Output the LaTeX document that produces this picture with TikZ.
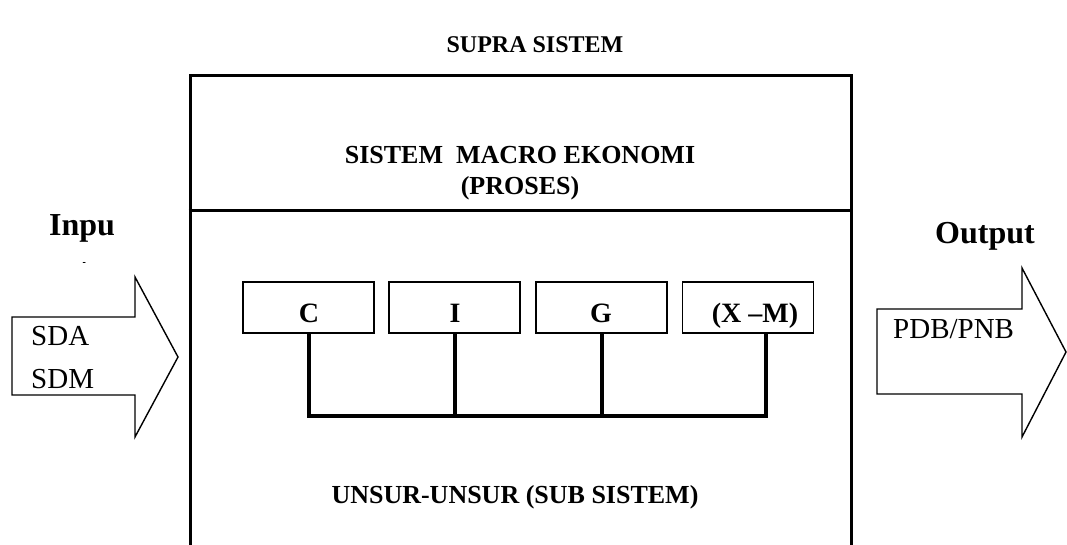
\documentclass[tikz,border=0pt]{standalone}
\usepackage{fontspec}
\setmainfont{Liberation Serif}
\begin{document}
\begin{tikzpicture}[x=1pt,y=-1pt,
  hd/.style={font=\fontsize{26}{31}\selectfont\bfseries, inner sep=0pt, align=center},
  io/.style={font=\fontsize{32}{36}\selectfont\bfseries, inner sep=0pt},
  tx/.style={font=\fontsize{29}{45}\selectfont, inner sep=0pt, align=left},
  subbox/.style={draw, line width=1.8pt, minimum width=131pt, minimum height=51pt, inner sep=0pt},
  lab/.style={font=\fontsize{28}{30}\selectfont\bfseries, inner sep=0pt},
  link/.style={line width=4pt, line join=miter},
  arr/.style={draw, line width=1.4pt, line join=miter},
  frame/.style={draw, line width=3pt, minimum width=661pt, minimum height=505pt, inner sep=0pt}]
\useasboundingbox (0,0) rectangle (1067,544);
\clip (0,0) rectangle (1067,544);
% main system box
\node[frame] (sys) at (520.5,327.5) {};
\draw[line width=3pt] (sys.west |- 0,210) -- (sys.east |- 0,210);
% titles
\node[hd, font=\fontsize{24}{28}\selectfont\bfseries] (supra) at (535,45) {SUPRA SISTEM};
\node[hd] (macro) at (520,173) {SISTEM\ \ MACRO EKONOMI\\(PROSES)};
\node[hd] (unsur) at (515,497) {UNSUR-UNSUR (SUB SISTEM)};
% sub boxes
\node[subbox] (c) at (308.5,307.5) {};
\node[subbox] (i) at (454.5,307.5) {};
\node[subbox] (g) at (601.5,307.5) {};
\node[subbox] (xm) at (748,307.5) {};
\node[lab, anchor=base] (ct) at (309,322) {C};
\node[lab, anchor=base] (it) at (455,322) {I};
\node[lab, anchor=base] (gt) at (601,322) {G};
\node[lab, anchor=base] (xmt) at (755,322) {(X --M)};
% connectors
\coordinate (xmend) at ([xshift=18pt]xm.south);
\draw[link] (c.south) -- (c.south |- 0,416) -- (xmend |- 0,416) -- (xmend);
\draw[link] (i.south) -- (i.south |- 0,416);
\draw[link] (g.south) -- (g.south |- 0,416);
% input arrow
\draw[arr] (12,317) -- (135,317) -- (135,277) -- (178,357) -- (135,437) -- (135,395) -- (12,395) -- cycle;
\node[tx, anchor=base west] (sda) at (31,345) {SDA};
\node[tx, anchor=base west] (sdm) at (31,388) {SDM};
\node[io] (inpu) at (82,228) {Inpu};
\begin{scope}
  \clip (70,251) rectangle (95,262);
  \node[io, anchor=base] (tfrag) at (84,280) {t};
\end{scope}
% output arrow
\draw[arr] (877,309) -- (1022,309) -- (1022,268) -- (1066,352) -- (1022,437) -- (1022,394) -- (877,394) -- cycle;
\node[tx, anchor=base west] (pdb) at (893,338) {PDB/PNB};
\node[io] (out) at (985,236) {Output};
\end{tikzpicture}
\end{document}
